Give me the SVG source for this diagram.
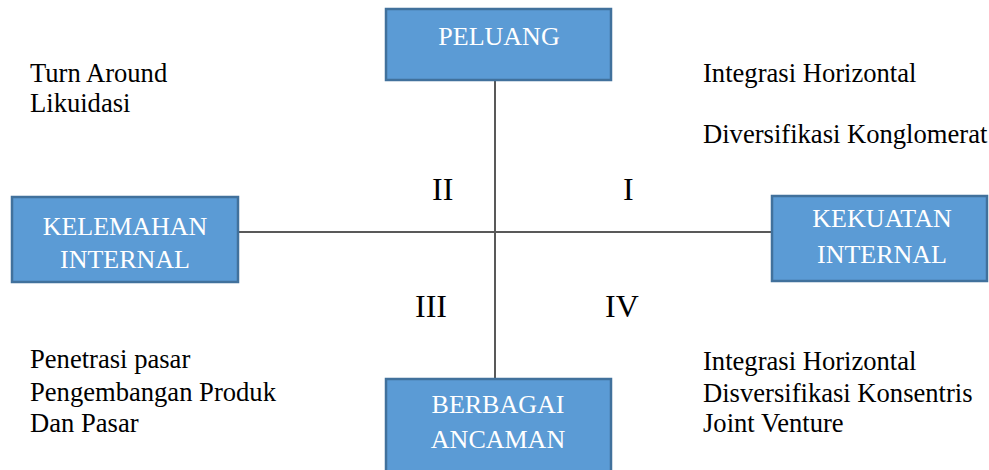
<svg xmlns="http://www.w3.org/2000/svg" width="989" height="470" viewBox="0 0 989 470">
  <style>
    .box { fill: #5B9BD5; stroke: #41719C; stroke-width: 2.5; }
    .lbl { font-size: 26px; fill: #FFFFFF; text-anchor: middle; }
    .txt { font-size: 26.6px; fill: #000000; }
    .num { font-size: 32px; fill: #000000; }
    .axis { stroke: #595959; stroke-width: 2; fill: none; }
  </style>
  <rect width="989" height="470" fill="#FFFFFF"/>

  <!-- axes -->
  <g id="connectors">
    <line class="axis" x1="495" y1="80" x2="495" y2="379"/>
    <line class="axis" x1="238" y1="232" x2="772" y2="232"/>
  </g>

  <g font-family="'Liberation Serif', Tinos, 'DejaVu Serif', serif">
    <g id="peluang">
      <rect class="box" x="386" y="9" width="225" height="71"/>
      <text class="lbl" x="499" y="45">PELUANG</text>
    </g>

    <g id="kelemahan">
      <rect class="box" x="12" y="197" width="226" height="85"/>
      <text class="lbl" x="125" y="235">KELEMAHAN</text>
      <text class="lbl" x="125" y="268">INTERNAL</text>
    </g>

    <g id="kekuatan">
      <rect class="box" x="772" y="196" width="215" height="85"/>
      <text class="lbl" x="882" y="227">KEKUATAN</text>
      <text class="lbl" x="882" y="263">INTERNAL</text>
    </g>

    <g id="ancaman">
      <rect class="box" x="386" y="379" width="225" height="100"/>
      <text class="lbl" x="498" y="413">BERBAGAI</text>
      <text class="lbl" x="498" y="448">ANCAMAN</text>
    </g>

    <!-- quadrant numerals -->
    <g id="quadrants">
      <text class="num" x="432" y="200">II</text>
      <text class="num" x="623" y="200">I</text>
      <text class="num" x="415" y="317">III</text>
      <text class="num" x="605" y="317">IV</text>
    </g>

    <!-- strategies per quadrant -->
    <g id="strategi-ii">
      <text class="txt" x="30" y="82">Turn Around</text>
      <text class="txt" x="30" y="112">Likuidasi</text>
    </g>
    <g id="strategi-i">
      <text class="txt" x="703" y="82">Integrasi Horizontal</text>
      <text class="txt" x="703" y="143">Diversifikasi Konglomerat</text>
    </g>
    <g id="strategi-iii">
      <text class="txt" x="30" y="368">Penetrasi pasar</text>
      <text class="txt" x="30" y="401">Pengembangan Produk</text>
      <text class="txt" x="30" y="432">Dan Pasar</text>
    </g>
    <g id="strategi-iv">
      <text class="txt" x="703" y="370">Integrasi Horizontal</text>
      <text class="txt" x="703" y="402">Disversifikasi Konsentris</text>
      <text class="txt" x="703" y="432">Joint Venture</text>
    </g>
  </g>
</svg>
